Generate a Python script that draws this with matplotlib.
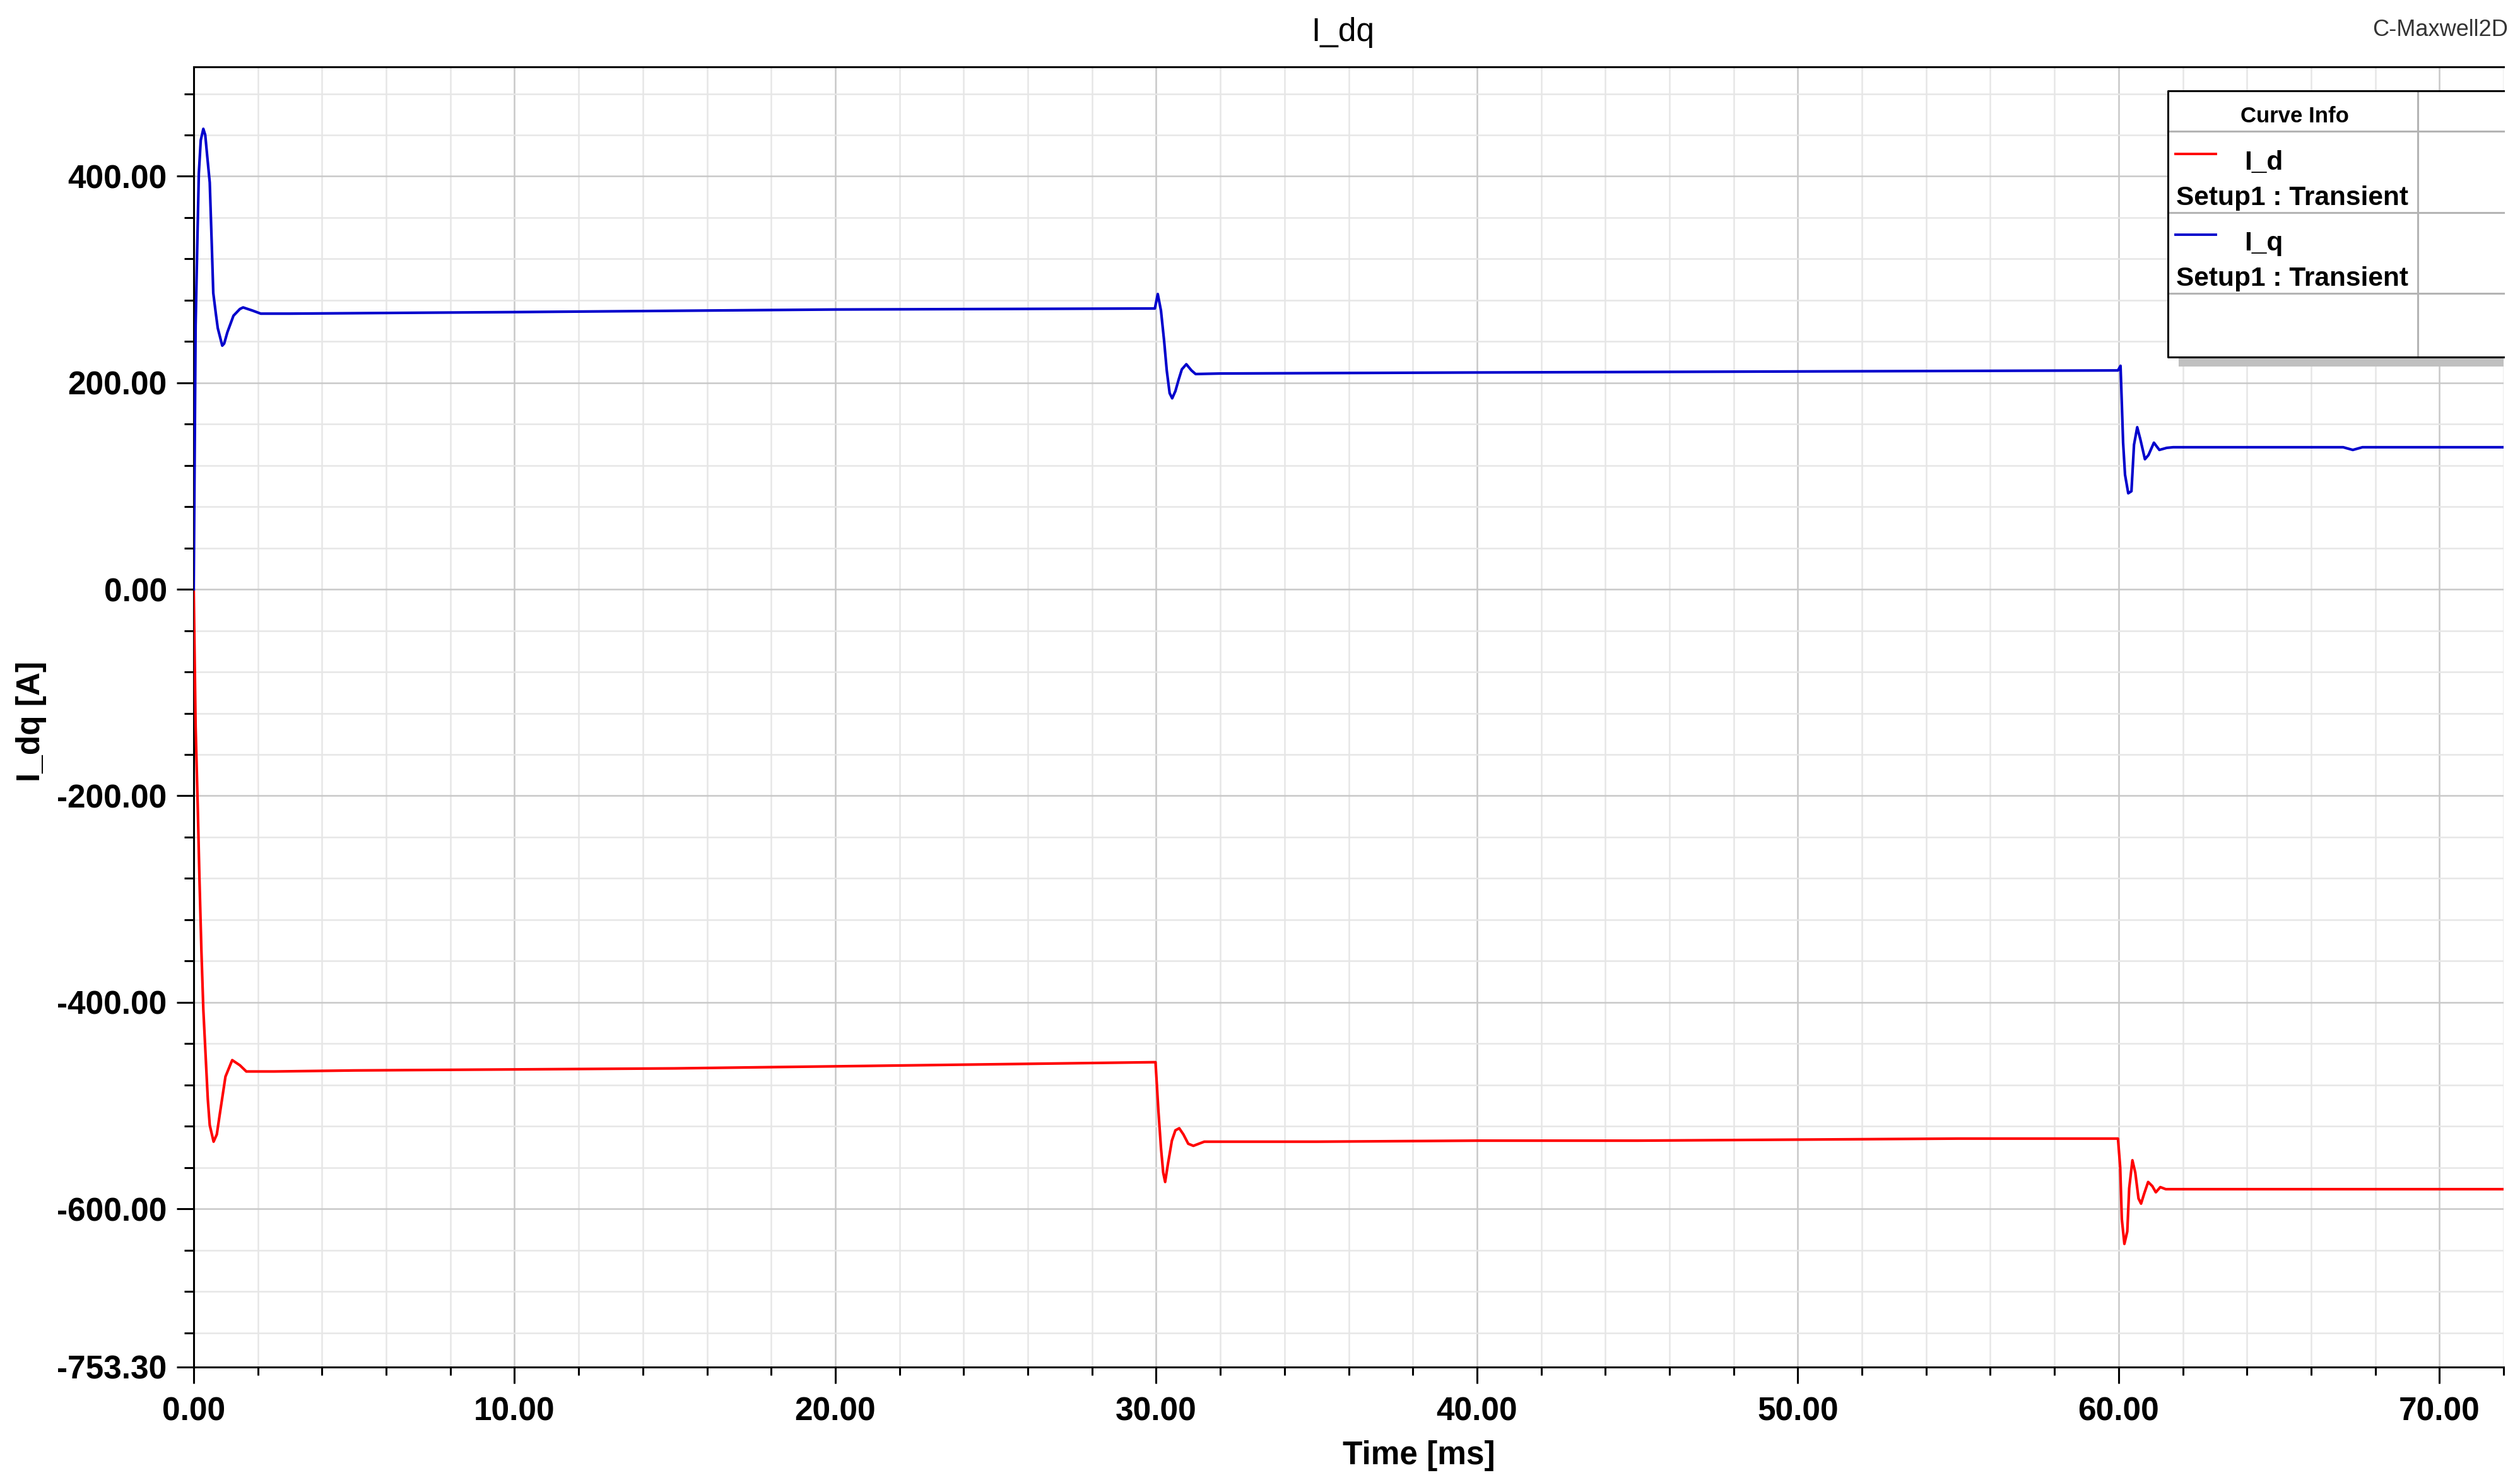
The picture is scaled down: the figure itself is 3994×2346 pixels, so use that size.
import numpy as np
import matplotlib
matplotlib.use("Agg")
import matplotlib.pyplot as plt
from matplotlib.patches import Rectangle
from matplotlib.lines import Line2D

# I_d (red), values, time in ms
t_d = [0.0, 0.06, 0.125, 0.18, 0.24, 0.30, 0.38, 0.44, 0.50, 0.62, 0.72, 0.81,
       0.99, 1.2, 1.44, 1.64, 2.5, 5.0, 10.0, 15.0, 20.0, 25.0, 29.98,
       30.07, 30.15, 30.22, 30.28, 30.37, 30.49, 30.6, 30.72, 30.85, 31.0, 31.16,
       31.5, 35.0, 40.0, 45.0, 50.0, 55.0, 59.98,
       60.05, 60.1, 60.18, 60.27, 60.33, 60.43, 60.52, 60.62, 60.7, 60.8,
       60.92, 61.05, 61.16, 61.3, 61.47, 65.0, 72.0]
i_d = [0, -133, -209, -281, -350, -407, -457, -494, -519, -535, -528, -509,
       -472, -456, -461, -467, -467, -466, -465, -464, -462, -460, -458,
       -505, -541, -565, -574, -556, -534, -524, -522, -528, -537, -539,
       -535, -535, -534, -534, -533, -532, -532,
       -560, -610, -634, -622, -580, -553, -565, -590, -595, -585,
       -574, -578, -584, -579, -581, -581, -581]

# I_q (blue)
t_q = [0.0, 0.06, 0.12, 0.16, 0.22, 0.30, 0.36, 0.42, 0.50, 0.56, 0.61, 0.69,
       0.75, 0.89, 0.95, 1.05, 1.24, 1.44, 1.54, 1.83, 2.09, 3.0, 10.0, 20.0,
       29.96, 30.05, 30.15, 30.25, 30.33, 30.42, 30.5, 30.6, 30.7, 30.8, 30.94,
       31.1, 31.23, 32.0, 40.0, 50.0, 59.98,
       60.06, 60.1, 60.14, 60.2, 60.3, 60.4, 60.48, 60.58, 60.68, 60.82, 60.93,
       61.1, 61.27, 61.5, 61.7, 67.0, 67.3, 67.6, 72.0]
i_q = [0, 256, 346, 403, 435, 446, 440, 420, 394, 337, 287, 267,
       253, 236, 238, 249, 265, 271.5, 273, 270, 267, 267, 268.5, 271,
       272, 286, 270, 240, 212, 190, 185, 192, 203, 213, 218,
       212, 208.5, 209, 210, 211, 212,
       216.5, 180, 142, 111, 93, 95, 140, 157, 145, 126, 130,
       142, 135, 137, 137.6, 137.6, 135, 137.6, 137.6]

x_major = [0, 10, 20, 30, 40, 50, 60, 70]
y_major = [-753.3, -600, -400, -200, 0, 200, 400]

W, H = 3994, 2346
fig = plt.figure(figsize=(W / 100, H / 100), dpi=100)
plt.rcParams['font.family'] = ['Liberation Sans', 'DejaVu Sans']


def fx(x):
    return x / W


def fy(y):
    return 1 - y / H


ax_l, ax_r, ax_t, ax_b = 307, 3968, 106, 2167
ax = fig.add_axes([fx(ax_l), fy(ax_b), fx(ax_r - ax_l), (ax_b - ax_t) / H])

ax.plot(t_d, i_d, color='#ff0000', lw=3.0, zorder=3)
ax.plot(t_q, i_q, color='#0000cc', lw=3.0, zorder=3)

ax.set_xlim(0, 72)
ax.set_ylim(-753.3, 506)

ax.set_xticks(x_major)
ax.set_xticklabels([f"{v:.2f}" for v in x_major])
ax.set_xticks(np.arange(0, 73, 2), minor=True)
ax.set_yticks(y_major)
ax.set_yticklabels([f"{v:.2f}" for v in y_major])
ax.set_yticks(np.arange(-720, 481, 40), minor=True)

ax.tick_params(axis='both', which='both', direction='out', width=2.2, color='black')
ax.tick_params(axis='x', which='major', length=18.5, pad=15)
ax.tick_params(axis='x', which='minor', length=9)
ax.tick_params(axis='y', which='major', length=19.5, pad=11)
ax.tick_params(axis='y', which='minor', length=10.5)
for lab in ax.get_xticklabels() + ax.get_yticklabels():
    lab.set_fontsize(37)
    lab.set_fontweight('bold')

ax.grid(True, which='minor', color='#e6e6e6', lw=1.8, zorder=0)
ax.grid(True, which='major', color='#c8c8c8', lw=1.8, zorder=0)
ax.set_axisbelow(True)

for s in ['left', 'bottom', 'top']:
    ax.spines[s].set_linewidth(2.2)
    ax.spines[s].set_color('black')
ax.spines['right'].set_visible(False)

# titles and axis labels
fig.text(fx(2128), fy(65), "I_dq", fontsize=37, ha='center', va='baseline')
fig.text(fx(2249), fy(2308), "Time [ms]", fontsize=37, fontweight='bold',
         ha='center', va='center')
fig.text(fx(50), fy(1143), "I_dq [A]", fontsize=37, fontweight='bold',
         rotation=90, ha='center', va='center')
fig.text(fx(3760), fy(57), "C-Maxwell2D", fontsize=26,
         color='#333333', ha='left', va='baseline')

# curve info table
lx, lt, lb = 3436, 144, 566
fig.patches.append(Rectangle((fx(lx + 17), fy(lb + 15)), fx(ax_r - lx - 17), 15 / H,
                             transform=fig.transFigure, facecolor='#c0c0c0',
                             edgecolor='none', zorder=9))
fig.patches.append(Rectangle((fx(lx), fy(lb)), fx(ax_r - lx), (lb - lt) / H,
                             transform=fig.transFigure, facecolor='white',
                             edgecolor='none', zorder=10))
for y in [208, 337, 465]:
    fig.lines.append(Line2D([fx(lx), fx(ax_r)], [fy(y), fy(y)], transform=fig.transFigure,
                            color='#b4b4b4', lw=2.2, zorder=11))
fig.lines.append(Line2D([fx(3832), fx(3832)], [fy(lt), fy(lb)], transform=fig.transFigure,
                        color='#b4b4b4', lw=2.2, zorder=11))
fig.lines.append(Line2D([fx(ax_r), fx(lx), fx(lx), fx(ax_r)],
                        [fy(lt), fy(lt), fy(lb), fy(lb)], transform=fig.transFigure,
                        color='black', lw=2.2, zorder=12))

fig.text(fx(3637), fy(184), "Curve Info", fontsize=25, fontweight='bold',
         ha='center', va='center', zorder=13)
names = ["I_d", "I_q"]
colors = ['#ff0000', '#0000cc']
for k, (nm, c) in enumerate(zip(names, colors)):
    y0 = 244 + k * 128
    fig.lines.append(Line2D([fx(3448), fx(3512)], [fy(y0), fy(y0)], transform=fig.transFigure,
                            color=c, lw=2.8, zorder=13))
    fig.text(fx(3557), fy(y0 + 25), nm, fontsize=30.5, fontweight='bold',
             ha='left', va='baseline', zorder=13)
    fig.text(fx(3449), fy(y0 + 81), "Setup1 : Transient", fontsize=30.5, fontweight='bold',
             ha='left', va='baseline', zorder=13)

fig.savefig("out.png", dpi=100)
